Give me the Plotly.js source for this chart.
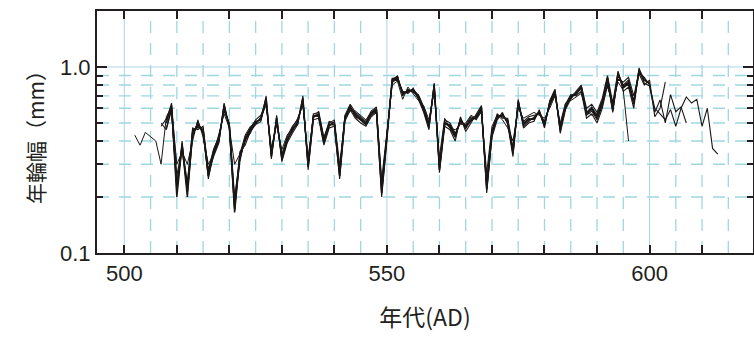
<!DOCTYPE html>
<html>
<head>
<meta charset="utf-8">
<script src="https://cdn.plot.ly/plotly-3.0.1.min.js"></script>
<style>html,body{margin:0;padding:0;background:#fff;}#chart{width:754px;height:337px;}</style>
</head>
<body>
<div id="chart"></div>
<script>
// Tree-ring width series (mm), each with its first year (AD)
const startA = 508;
const seriesA = [0.50,0.62,0.20,0.38,0.20,0.44,0.49,0.45,0.26,0.34,
 0.40,0.62,0.48,0.165,0.33,0.40,0.46,0.50,0.53,0.68,
 0.33,0.53,0.32,0.40,0.46,0.50,0.68,0.29,0.54,0.55,
 0.39,0.49,0.49,0.26,0.53,0.61,0.55,0.52,0.49,0.56,
 0.59,0.21,0.42,0.85,0.88,0.72,0.74,0.75,0.69,0.59,
 0.48,0.80,0.28,0.50,0.48,0.42,0.52,0.47,0.52,0.54,
 0.60,0.22,0.44,0.54,0.55,0.51,0.345,0.65,0.49,0.52,
 0.53,0.575,0.49,0.64,0.74,0.46,0.61,0.69,0.72,0.78,
 0.565,0.60,0.54,0.64,0.87,0.59,0.93,0.78,0.82,0.64,
 0.96,0.85,0.82];

const startB = 507;
const seriesB = [0.48,
 0.53,0.58,0.23,0.36,0.22,0.46,0.47,0.47,0.28,0.36,
 0.42,0.58,0.50,0.18,0.31,0.42,0.47,0.52,0.55,0.64,
 0.35,0.50,0.34,0.42,0.48,0.52,0.64,0.31,0.56,0.57,
 0.41,0.51,0.50,0.28,0.55,0.63,0.57,0.54,0.51,0.58,
 0.61,0.23,0.45,0.82,0.90,0.70,0.76,0.73,0.71,0.61,
 0.50,0.76,0.30,0.52,0.50,0.44,0.50,0.49,0.54,0.52,
 0.58,0.24,0.46,0.56,0.53,0.53,0.37,0.62,0.51,0.54,
 0.55,0.56,0.51,0.62,0.71,0.48,0.63,0.71,0.70,0.74,
 0.53,0.56,0.50,0.60,0.80,0.62,0.86,0.83,0.88,0.70,
 0.93,0.88,0.80,
 0.60,0.56,0.52,0.59,0.48,0.60,0.69,0.64,0.67,0.48,0.60,0.365,0.34];

const startC = 508;
const seriesC = [0.47,0.60,0.22,0.40,0.21,0.42,0.51,0.44,0.27,0.33,
 0.39,0.64,0.46,0.17,0.35,0.38,0.45,0.49,0.51,0.70,
 0.32,0.55,0.31,0.39,0.44,0.49,0.70,0.28,0.52,0.53,
 0.38,0.47,0.48,0.25,0.51,0.59,0.53,0.50,0.48,0.54,
 0.57,0.20,0.40,0.87,0.86,0.74,0.72,0.77,0.67,0.57,
 0.46,0.82,0.27,0.48,0.46,0.40,0.54,0.45,0.50,0.56,
 0.62,0.21,0.42,0.52,0.57,0.49,0.33,0.67,0.47,0.50,
 0.51,0.59,0.47,0.66,0.76,0.44,0.59,0.67,0.74,0.80,
 0.60,0.63,0.57,0.68,0.90,0.64,0.95,0.74,0.78,0.60,
 0.99,0.82,0.79,
 0.57,0.665,0.50,0.71,0.575,0.61,0.50];

const startD = 508;
const seriesD = [0.52,0.64,0.26,0.37,0.24,0.45,0.48,0.46,0.25,0.35,
 0.41,0.60,0.49,0.20,0.32,0.41,0.44,0.51,0.52,0.66,
 0.34,0.52,0.33,0.41,0.45,0.51,0.66,0.30,0.55,0.54,
 0.40,0.48,0.51,0.27,0.54,0.60,0.56,0.53,0.50,0.55,
 0.58,0.22,0.43,0.84,0.87,0.73,0.73,0.76,0.70,0.60,
 0.49,0.78,0.29,0.49,0.49,0.43,0.51,0.48,0.51,0.55,
 0.59,0.23,0.45,0.53,0.56,0.50,0.36,0.63,0.50,0.53,
 0.52,0.58,0.50,0.63,0.73,0.47,0.60,0.70,0.73,0.76,
 0.55,0.58,0.52,0.62,0.84,0.57,0.90,0.80,0.85,0.66,
 0.92,0.80,0.85,
 0.54,0.60,0.83];

const startE = 502;
const seriesE = [0.43,0.38,0.445,0.42,0.40,0.30,
 0.54,0.61,0.30,0.35,0.30,0.40,0.52,0.42,0.30,0.34,
 0.43,0.56,0.47,0.30,0.34,0.43,0.48,0.49,0.54,0.62,
 0.37,0.49,0.36,0.43,0.47,0.53,0.62,0.33,0.53,0.58,
 0.42,0.50,0.52,0.30,0.52,0.58,0.58,0.55,0.52,0.57,
 0.60,0.25,0.46,0.80,0.84,0.67,0.78,0.72,0.66,0.62,
 0.52,0.74,0.33,0.53,0.47,0.46,0.49,0.50,0.55,0.53,
 0.57,0.27,0.48,0.55,0.52,0.47,0.40,0.60,0.53,0.55,
 0.57,0.55,0.53,0.60,0.70,0.50,0.64,0.66,0.69,0.72,
 0.58,0.55,0.56,0.66,0.78,0.65,0.83,0.75,0.40];

const startF = 507;
const seriesF = [0.50,
 0.46,0.59,0.21,0.39,0.21,0.43,0.50,0.44,0.26,0.35,
 0.40,0.63,0.47,0.17,0.33,0.40,0.46,0.50,0.53,0.67,
 0.33,0.54,0.32,0.40,0.47,0.49,0.67,0.29,0.54,0.56,
 0.39,0.49,0.49,0.26,0.52,0.62,0.54,0.52,0.49,0.57,
 0.59,0.21,0.41,0.86,0.89,0.71,0.75,0.74,0.68,0.58,
 0.47,0.81,0.28,0.51,0.47,0.42,0.53,0.47,0.52,0.54,
 0.61,0.22,0.43,0.55,0.54,0.52,0.34,0.66,0.48,0.51,
 0.54,0.57,0.48,0.65,0.75,0.45,0.62,0.68,0.72,0.79,
 0.57,0.61,0.55,0.65,0.88,0.60,0.92,0.79,0.83,0.65,
 0.97,0.86,0.81];

const startG = 509;
const seriesG = [0.57,0.24,0.37,0.23,0.47,0.46,0.48,0.27,0.36,
 0.42,0.59,0.49,0.19,0.34,0.41,0.47,0.51,0.52,0.65,
 0.34,0.51,0.33,0.41,0.46,0.51,0.65,0.30,0.55,0.55,
 0.40,0.50,0.50,0.27,0.54,0.60,0.56,0.53,0.50,0.56,
 0.60,0.22,0.44,0.83,0.86,0.73,0.74,0.76,0.70,0.60,
 0.49,0.79,0.29,0.50,0.49,0.43,0.52,0.48,0.53,0.53,
 0.59,0.23,0.45,0.54,0.55,0.50,0.35,0.64,0.50,0.52,
 0.53,0.57,0.50,0.63,0.73,0.47,0.61,0.70,0.71,0.77,
 0.56,0.59,0.53,0.63,0.85,0.58,0.91,0.77,0.81,0.63,
 0.94,0.84];

const xTickVals = [500,510,520,530,540,550,560,570,580,590,600,610];
const xTickText = ['500','','','','','550','','','','','600',''];
const yTickVals = [0.1,0.2,0.3,0.4,0.5,0.6,0.7,0.8,0.9,1];
const yTickText = ['0.1','','','','','','','','','1.0'];
const yMajorVals = [0.1, 1];
const xDashGrid = [505,510,515,520,525,530,535,540,545,555,560,565,570,575,580,585,590,595,605,610,615];
const xSolidGrid = [500,550,600];
const yDashGrid = [0.2,0.3,0.4,0.5,0.6,0.7,0.8,0.9];
const ySolidGrid = [1.0];

const allSeries = [
  {start: startE, vals: seriesE, w: 1.0},
  {start: startB, vals: seriesB, w: 1.1},
  {start: startC, vals: seriesC, w: 1.1},
  {start: startD, vals: seriesD, w: 1.1},
  {start: startF, vals: seriesF, w: 1.1},
  {start: startG, vals: seriesG, w: 1.1},
  {start: startA, vals: seriesA, w: 1.5}
];

const traces = allSeries.map(s => ({
  type: 'scatter', mode: 'lines',
  x: s.vals.map((v, i) => s.start + i),
  y: s.vals,
  line: {color: '#1b1717', width: s.w},
  hoverinfo: 'skip', showlegend: false
}));
// invisible helper trace so the overlay axis (longer major ticks) is drawn
traces.push({type: 'scatter', mode: 'lines', x: [500], y: [1], yaxis: 'y2',
  line: {color: 'rgba(0,0,0,0)', width: 0}, hoverinfo: 'skip', showlegend: false});

const gridDash = '#9fd7e0';
const gridSolid = '#abd5e6';
const shapes = [];
xDashGrid.forEach(v => shapes.push({type:'line', layer:'below', xref:'x', yref:'paper', x0:v, x1:v, y0:0, y1:1, line:{color:gridDash, width:1.3, dash:'12px,10px'}}));
xSolidGrid.forEach(v => shapes.push({type:'line', layer:'below', xref:'x', yref:'paper', x0:v, x1:v, y0:0, y1:1, line:{color:gridSolid, width:1}}));
yDashGrid.forEach(v => shapes.push({type:'line', layer:'below', xref:'paper', yref:'y', x0:0, x1:1, y0:v, y1:v, line:{color:gridDash, width:1.3, dash:'12px,10px'}}));
ySolidGrid.forEach(v => shapes.push({type:'line', layer:'below', xref:'paper', yref:'y', x0:0, x1:1, y0:v, y1:v, line:{color:gridSolid, width:1}}));

const font = {family: '"Liberation Sans", Arial, sans-serif', color: '#231f20'};
const yRange = [-1, Math.log10(2.0)];

const layout = {
  width: 754, height: 337,
  margin: {l: 97, r: 1, t: 11, b: 84},
  paper_bgcolor: '#ffffff', plot_bgcolor: '#ffffff',
  showlegend: false,
  shapes: shapes,
  xaxis: {
    range: [494.8, 619.7],
    tickmode: 'array', tickvals: xTickVals, ticktext: xTickText,
    ticks: 'inside', ticklen: 8, tickwidth: 2, tickcolor: '#231f20',
    showline: true, linewidth: 2, linecolor: '#231f20', mirror: 'ticks',
    showgrid: false, zeroline: false,
    tickfont: Object.assign({size: 22}, font),
    title: {text: '年代(AD)', font: {family: '"Noto Sans CJK JP", sans-serif', size: 23, color: '#231f20'}, standoff: 24}
  },
  yaxis: {
    type: 'log', range: yRange,
    tickmode: 'array', tickvals: yTickVals, ticktext: yTickText,
    ticks: 'inside', ticklen: 6, tickwidth: 2, tickcolor: '#231f20',
    showline: true, linewidth: 2, linecolor: '#231f20', mirror: 'ticks',
    showgrid: false, zeroline: false,
    tickfont: Object.assign({size: 22}, font),
    title: {text: '年輪幅（mm）', font: {family: '"Noto Sans CJK JP", sans-serif', size: 21, color: '#231f20'}, standoff: 10}
  },
  yaxis2: {
    type: 'log', range: yRange, overlaying: 'y', side: 'left',
    tickmode: 'array', tickvals: yMajorVals, showticklabels: false,
    ticks: 'inside', ticklen: 10, tickwidth: 2, tickcolor: '#231f20',
    showline: false, mirror: 'ticks', showgrid: false, zeroline: false
  }
};

Plotly.newPlot('chart', traces, layout, {displayModeBar: false, staticPlot: true});
</script>
</body>
</html>
